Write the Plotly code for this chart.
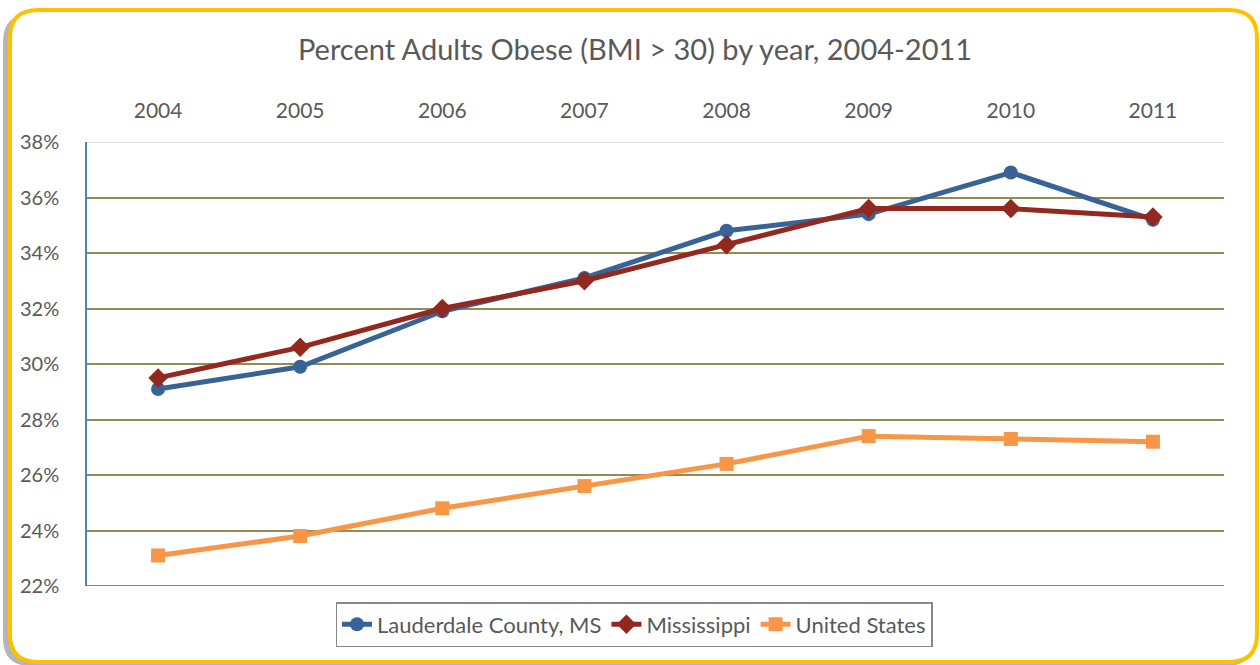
import plotly.graph_objects as go

years = ["2004", "2005", "2006", "2007", "2008", "2009", "2010", "2011"]
lauderdale = [29.1, 29.9, 31.9, 33.1, 34.8, 35.4, 36.9, 35.2]
mississippi = [29.5, 30.6, 32.0, 33.0, 34.3, 35.6, 35.6, 35.3]
united_states = [23.1, 23.8, 24.8, 25.6, 26.4, 27.4, 27.3, 27.2]
series_names = ["Lauderdale County, MS", "Mississippi", "United States"]

W, H = 1260, 665
L, R, T, B = 87, 36, 142, 79
PW, PH = W - L - R, H - T - B

def px(x):
    return (x - L) / PW

def py(y):
    return (H - B - y) / PH

def rounded_rect(x0, y0, x1, y1, r):
    pts = [
        f"M {px(x0 + r)} {py(y0)}",
        f"L {px(x1 - r)} {py(y0)}",
        f"Q {px(x1)} {py(y0)} {px(x1)} {py(y0 + r)}",
        f"L {px(x1)} {py(y1 - r)}",
        f"Q {px(x1)} {py(y1)} {px(x1 - r)} {py(y1)}",
        f"L {px(x0 + r)} {py(y1)}",
        f"Q {px(x0)} {py(y1)} {px(x0)} {py(y1 - r)}",
        f"L {px(x0)} {py(y0 + r)}",
        f"Q {px(x0)} {py(y0)} {px(x0 + r)} {py(y0)}",
        "Z",
    ]
    return " ".join(pts)

FONT = "Lato"
TXT = "#595959"

fig = go.Figure()
fig.add_trace(go.Scatter(x=years, y=lauderdale, name=series_names[0], mode="lines+markers",
                         line=dict(color="#386396", width=5),
                         marker=dict(symbol="circle", size=14, color="#386396")))
fig.add_trace(go.Scatter(x=years, y=mississippi, name=series_names[1], mode="lines+markers",
                         line=dict(color="#93281E", width=5),
                         marker=dict(symbol="diamond", size=15, color="#93281E")))
fig.add_trace(go.Scatter(x=years, y=united_states, name=series_names[2], mode="lines+markers",
                         line=dict(color="#F79646", width=5),
                         marker=dict(symbol="square", size=14, color="#F79646")))

shapes = [
    # shadow
    dict(type="path", xref="paper", yref="paper", path=rounded_rect(3, 14, 1254, 666, 28),
         fillcolor="rgba(120,120,120,0.55)", line=dict(width=0), layer="below"),
    # frame
    dict(type="path", xref="paper", yref="paper", path=rounded_rect(10, 10, 1257, 662, 28),
         fillcolor="white", line=dict(color="#FFC000", width=4), layer="below"),
    # top light line at 38%
    dict(type="line", xref="paper", yref="y", x0=0, x1=1, y0=38, y1=38,
         line=dict(color="#D9D9D9", width=2), layer="above"),
    # bottom line at 22%
    dict(type="line", xref="paper", yref="y", x0=0, x1=1, y0=22, y1=22,
         line=dict(color="#938953", width=2), layer="below"),
]

fig.update_layout(
    width=W, height=H,
    margin=dict(l=L, r=R, t=T, b=B),
    paper_bgcolor="white", plot_bgcolor="rgba(0,0,0,0)",
    font=dict(family=FONT, color=TXT),
    title=dict(text="Percent Adults Obese (BMI > 30) by year, 2004-2011",
               x=0.504, xanchor="center", y=1 - 50 / H, yanchor="middle",
               font=dict(size=29, color=TXT, family=FONT)),
    xaxis=dict(type="category", side="top", range=[-0.5, 7.5], showgrid=False,
               showline=False, zeroline=False, ticks="", ticklabelstandoff=19,
               tickfont=dict(size=21, color=TXT, family=FONT)),
    yaxis=dict(range=[22, 38], dtick=2, tick0=22, ticksuffix="%", showgrid=True,
               gridcolor="#948A54", gridwidth=2, zeroline=False,
               showline=True, linecolor="#4F81BD", linewidth=1.5,
               ticks="", ticklabelstandoff=22,
               tickfont=dict(size=20, color=TXT, family=FONT)),
    legend=dict(orientation="h", x=px(634), xanchor="center", y=py(602), yanchor="top",
                bordercolor="#888888", borderwidth=1.5, bgcolor="white",
                font=dict(size=22, color=TXT, family=FONT),
                tracegroupgap=0),
    shapes=shapes,
    showlegend=True,
)

fig.write_html("out.html", config={"displayModeBar": False},
               post_script="document.body.style.margin='0';")
